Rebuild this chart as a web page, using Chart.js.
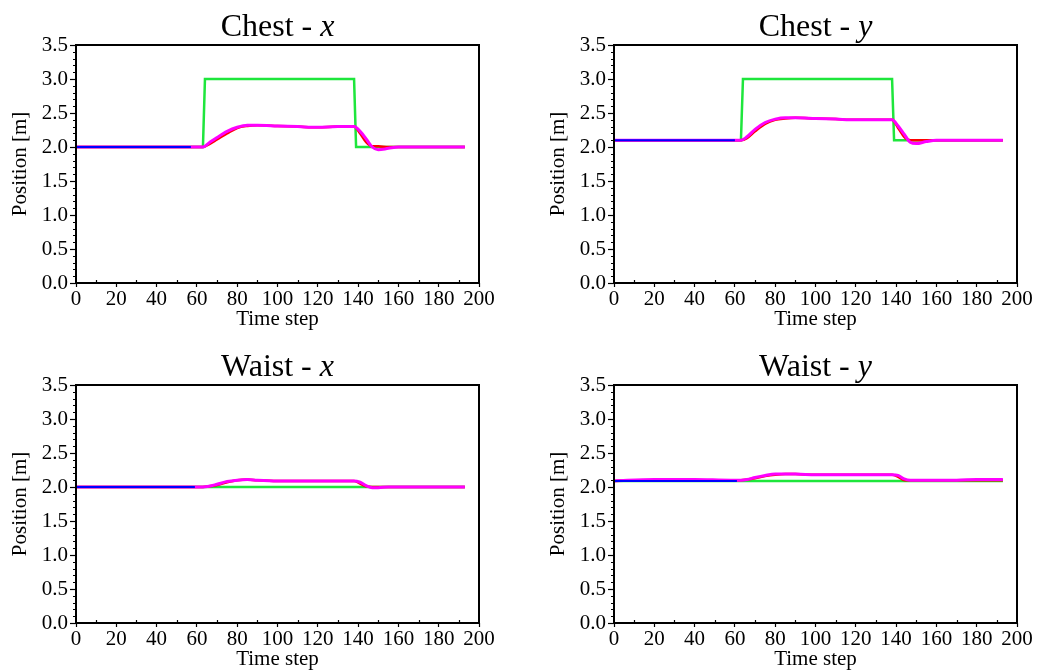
<!DOCTYPE html>
<html>
<head>
<meta charset="utf-8">
<script src="https://cdn.jsdelivr.net/npm/chart.js@4.4.1/dist/chart.umd.min.js"></script>
<style>
  body { margin: 0; background: #fff; width: 1043px; height: 672px; overflow: hidden; position: relative; }
  canvas { position: absolute; }
</style>
</head>
<body>
<canvas id="chestX" width="521" height="336" style="left:0;top:0"></canvas>
<canvas id="chestY" width="521" height="336" style="left:538px;top:0"></canvas>
<canvas id="waistX" width="521" height="336" style="left:0;top:340px"></canvas>
<canvas id="waistY" width="521" height="336" style="left:538px;top:340px"></canvas>
<script>
// time steps of the predicted trajectories
const timeSteps = [0, 20, 40, 58, 63, 66, 70, 75, 80, 85, 90, 100, 110, 120, 130, 138, 141, 144, 147, 150, 155, 160, 170, 180, 193];

// Chest - x
const chestXRefT   = [0, 63, 64, 138, 139, 193];
const chestXRef    = [2.0, 2.0, 3.0, 3.0, 2.0, 2.0];
const chestXHistT  = [0, 57];
const chestXHist   = [2.0, 2.0];
const chestXRed    = [2.0, 2.0, 2.0, 2.0, 2.0, 2.04, 2.11, 2.20, 2.28, 2.31, 2.32, 2.31, 2.30, 2.29, 2.30, 2.30, 2.20, 2.07, 2.01, 2.01, 2.0, 2.0, 2.0, 2.0, 2.0];
const chestXMag    = [2.0, 2.0, 2.0, 2.0, 2.0, 2.06, 2.14, 2.23, 2.29, 2.32, 2.32, 2.31, 2.30, 2.29, 2.30, 2.30, 2.23, 2.12, 2.00, 1.96, 1.98, 2.0, 2.0, 2.0, 2.0];

// Chest - y
const chestYRefT   = [0, 63, 64, 138, 139, 193];
const chestYRef    = [2.1, 2.1, 3.0, 3.0, 2.1, 2.1];
const chestYHistT  = [0, 60];
const chestYHist   = [2.1, 2.1];
const chestYRed    = [2.1, 2.1, 2.1, 2.1, 2.1, 2.13, 2.23, 2.34, 2.40, 2.42, 2.43, 2.42, 2.41, 2.40, 2.40, 2.40, 2.28, 2.15, 2.10, 2.10, 2.1, 2.1, 2.1, 2.1, 2.1];
const chestYMag    = [2.1, 2.1, 2.1, 2.1, 2.1, 2.15, 2.26, 2.36, 2.41, 2.43, 2.43, 2.42, 2.41, 2.40, 2.40, 2.40, 2.31, 2.19, 2.07, 2.05, 2.08, 2.1, 2.1, 2.1, 2.1];

// Waist - x
const waistXRefT   = [0, 193];
const waistXRef    = [2.0, 2.0];
const waistXHistT  = [0, 59];
const waistXHist   = [2.0, 2.0];
const waistXRed    = [2.0, 2.0, 2.0, 2.0, 2.0, 2.01, 2.03, 2.07, 2.10, 2.11, 2.10, 2.09, 2.09, 2.09, 2.09, 2.09, 2.05, 2.01, 2.0, 2.0, 2.0, 2.0, 2.0, 2.0, 2.0];
const waistXMag    = [2.0, 2.0, 2.0, 2.0, 2.0, 2.01, 2.04, 2.08, 2.10, 2.11, 2.10, 2.09, 2.09, 2.09, 2.09, 2.09, 2.07, 2.02, 1.99, 1.99, 2.0, 2.0, 2.0, 2.0, 2.0];

// Waist - y
const waistYRefT   = [0, 193];
const waistYRef    = [2.09, 2.09];
const waistYHistT  = [0, 61];
const waistYHist   = [2.09, 2.09];
const waistYRed    = [2.09, 2.10, 2.10, 2.10, 2.10, 2.11, 2.13, 2.16, 2.18, 2.19, 2.19, 2.18, 2.18, 2.18, 2.18, 2.18, 2.15, 2.10, 2.10, 2.10, 2.10, 2.10, 2.10, 2.10, 2.10];
const waistYMag    = [2.09, 2.11, 2.11, 2.10, 2.10, 2.11, 2.14, 2.17, 2.19, 2.19, 2.19, 2.18, 2.18, 2.18, 2.18, 2.18, 2.17, 2.12, 2.10, 2.10, 2.10, 2.10, 2.10, 2.11, 2.11];

const xTicks = [0, 20, 40, 60, 80, 100, 120, 140, 160, 180, 200];
const yTicks = [0.0, 0.5, 1.0, 1.5, 2.0, 2.5, 3.0, 3.5];

const serif = "'Liberation Serif', 'DejaVu Serif', serif";

function pts(t, v) {
    return t.map((x, i) => ({ x: x, y: v[i] }));
}

// frame, minor ticks and panel title
const panelDeco = {
    id: 'panelDeco',
    afterDraw(chart, args, opts) {
        const ctx = chart.ctx;
        const a = chart.chartArea;
        const xs = chart.scales.x;
        const ys = chart.scales.y;
        ctx.save();
        ctx.strokeStyle = '#000';
        ctx.lineWidth = 2;
        ctx.strokeRect(a.left, a.top, a.right - a.left, a.bottom - a.top);
        ctx.lineWidth = 1.2;
        ctx.beginPath();
        for (let v = 0.1; v < 3.5; v += 0.1) {
            const y = Math.round(ys.getPixelForValue(v)) + 0.5;
            ctx.moveTo(a.left - 3, y);
            ctx.lineTo(a.left, y);
        }
        for (let v = 10; v < 200; v += 20) {
            const x = Math.round(xs.getPixelForValue(v)) + 0.5;
            ctx.moveTo(x, a.bottom);
            ctx.lineTo(x, a.bottom - 3);
        }
        ctx.stroke();

        // title: "Chest - " + italic axis letter
        ctx.fillStyle = '#000';
        ctx.textBaseline = 'alphabetic';
        const f1 = '32px ' + serif;
        const f2 = 'italic 32px ' + serif;
        ctx.font = f1;
        const w1 = ctx.measureText(opts.main).width;
        ctx.font = f2;
        const w2 = ctx.measureText(opts.axis).width;
        const cx = (a.left + a.right) / 2;
        const x0 = cx - (w1 + w2) / 2;
        ctx.font = f1;
        ctx.textAlign = 'left';
        ctx.fillText(opts.main, x0, 36);
        ctx.font = f2;
        ctx.fillText(opts.axis, x0 + w1, 36);
        ctx.restore();
    }
};

function makePanel(id, name, axis, refT, ref, histT, hist, red, mag) {
    new Chart(document.getElementById(id), {
        type: 'line',
        data: {
            datasets: [
                { data: pts(histT, hist), borderColor: '#0000ff', borderWidth: 2, order: 0 },
                { data: pts(timeSteps, mag), borderColor: '#ff00ff', borderWidth: 3, cubicInterpolationMode: 'monotone', order: 1 },
                { data: pts(timeSteps, red), borderColor: '#ff0000', borderWidth: 2.5, cubicInterpolationMode: 'monotone', order: 2 },
                { data: pts(refT, ref), borderColor: '#1ee63c', borderWidth: 2.5, order: 3 }
            ]
        },
        options: {
            responsive: false,
            animation: false,
            events: [],
            layout: { padding: { top: 45, right: 42, left: 0, bottom: 0 } },
            elements: { point: { radius: 0 }, line: { tension: 0 } },
            plugins: {
                legend: { display: false },
                tooltip: { enabled: false },
                panelDeco: { main: name + ' - ', axis: axis }
            },
            scales: {
                x: {
                    type: 'linear', min: 0, max: 200,
                    afterBuildTicks: s => { s.ticks = xTicks.map(v => ({ value: v })); },
                    afterFit: s => { s.height = 53; },
                    grid: { drawOnChartArea: false, drawTicks: true, tickLength: 4, tickColor: '#000', tickWidth: 1.2 },
                    border: { display: false },
                    ticks: { color: '#000', font: { family: serif, size: 21 }, padding: 0, maxRotation: 0, autoSkip: false },
                    title: { display: true, text: 'Time step', color: '#000', font: { family: serif, size: 21 }, padding: { top: 0, bottom: 4 } }
                },
                y: {
                    min: 0, max: 3.5,
                    afterBuildTicks: s => { s.ticks = yTicks.map(v => ({ value: v })); },
                    afterFit: s => { s.width = 76; },
                    grid: { drawOnChartArea: false, drawTicks: true, tickLength: 6, tickColor: '#000', tickWidth: 1.2 },
                    border: { display: false },
                    ticks: { color: '#000', font: { family: serif, size: 21 }, padding: 2, callback: v => v.toFixed(1) },
                    title: { display: true, text: 'Position [m]', color: '#000', font: { family: serif, size: 21 }, padding: { top: 8, bottom: 0 } }
                }
            }
        },
        plugins: [panelDeco]
    });
}

makePanel('chestX', 'Chest', 'x', chestXRefT, chestXRef, chestXHistT, chestXHist, chestXRed, chestXMag);
makePanel('chestY', 'Chest', 'y', chestYRefT, chestYRef, chestYHistT, chestYHist, chestYRed, chestYMag);
makePanel('waistX', 'Waist', 'x', waistXRefT, waistXRef, waistXHistT, waistXHist, waistXRed, waistXMag);
makePanel('waistY', 'Waist', 'y', waistYRefT, waistYRef, waistYHistT, waistYHist, waistYRed, waistYMag);
</script>
</body>
</html>
